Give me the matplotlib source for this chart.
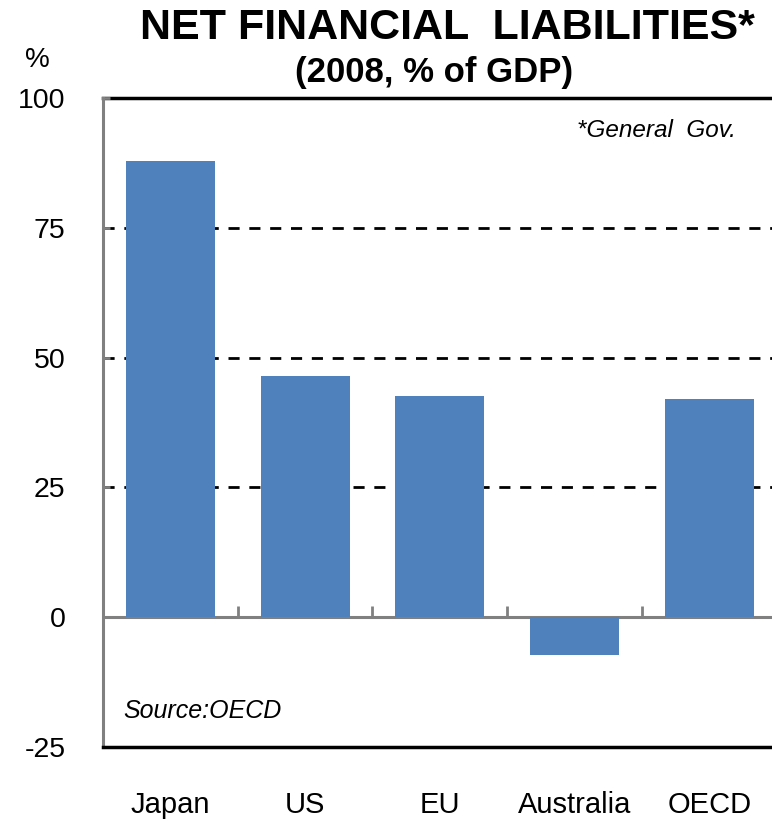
import matplotlib
matplotlib.use("Agg")
import matplotlib.pyplot as plt
import numpy as np

plt.rcParams["font.family"] = ["Liberation Sans Narrow", "Liberation Sans", "DejaVu Sans"]

# Net financial liabilities, general government, 2008 (% of GDP)
countries = ["Japan", "US", "EU", "Australia", "OECD"]
liabilities = [87.9, 46.4, 42.6, -7.3, 42.0]
yticks = [-25, 0, 25, 50, 75, 100]

BAR = "#4F81BD"
GREY = "#808080"

fig = plt.figure(figsize=(7.72, 8.19), dpi=100)
fig.patch.set_facecolor("white")
ax = fig.add_axes([0.1334, 0.0879, 0.8727, 0.7924])

x = np.arange(len(countries))
ax.set_xlim(-0.5, len(countries) - 0.5)
ax.set_ylim(-25, 100)

# gridlines at the inner ticks, solid line on top
for y in yticks[2:-1]:
    ax.axhline(y, color="black", lw=2, ls=(0, (4, 3.5)), zorder=1)
ax.axhline(100, color="black", lw=2.5, zorder=1, clip_on=False)
ax.axhline(0, color=GREY, lw=2.2, zorder=2)

ax.bar(x, liabilities, width=0.66, color=BAR, zorder=3)

# spines
for s in ["top", "right"]:
    ax.spines[s].set_visible(False)
ax.spines["left"].set_color(GREY)
ax.spines["left"].set_linewidth(2.2)
ax.spines["bottom"].set_color("black")
ax.spines["bottom"].set_linewidth(2.5)
ax.spines["bottom"].set_linestyle((0, (8, 1)))

ax.set_yticks(yticks)
ax.set_yticklabels([str(v) for v in yticks], fontsize=20.5)
ax.tick_params(axis="y", direction="in", length=5, width=2, color=GREY, pad=27)

ax.set_xticks(x)
ax.set_xticklabels(countries, fontsize=21)
ax.tick_params(axis="x", length=0, pad=32)

# category separators on the zero line
zero_pos = (0 - ax.get_ylim()[0]) / (ax.get_ylim()[1] - ax.get_ylim()[0])
sec = ax.secondary_xaxis(zero_pos)
sec.set_xticks(x[:-1] + 0.5)
sec.set_xticklabels([])
sec.tick_params(direction="in", length=8, width=2, color=GREY)
sec.spines["bottom"].set_visible(False)
sec.spines["top"].set_visible(False)

# annotations
ax.text(0.94, 0.95, "*General  Gov.", transform=ax.transAxes, ha="right", va="center",
        fontsize=17.5, style="italic")
ax.text(0.03, 0.055, "Source:OECD", transform=ax.transAxes, ha="left", va="center",
        fontsize=18, style="italic")

fig.text(0.579, 0.966, "NET FINANCIAL  LIABILITIES*", ha="center", va="center",
         fontsize=31, fontweight="bold")
fig.text(0.562, 0.912, "(2008, % of GDP)", ha="center", va="center",
         fontsize=25, fontweight="bold")
fig.text(0.048, 0.927, "%", ha="center", va="center", fontsize=20)

fig.savefig("out.png", dpi=100)
